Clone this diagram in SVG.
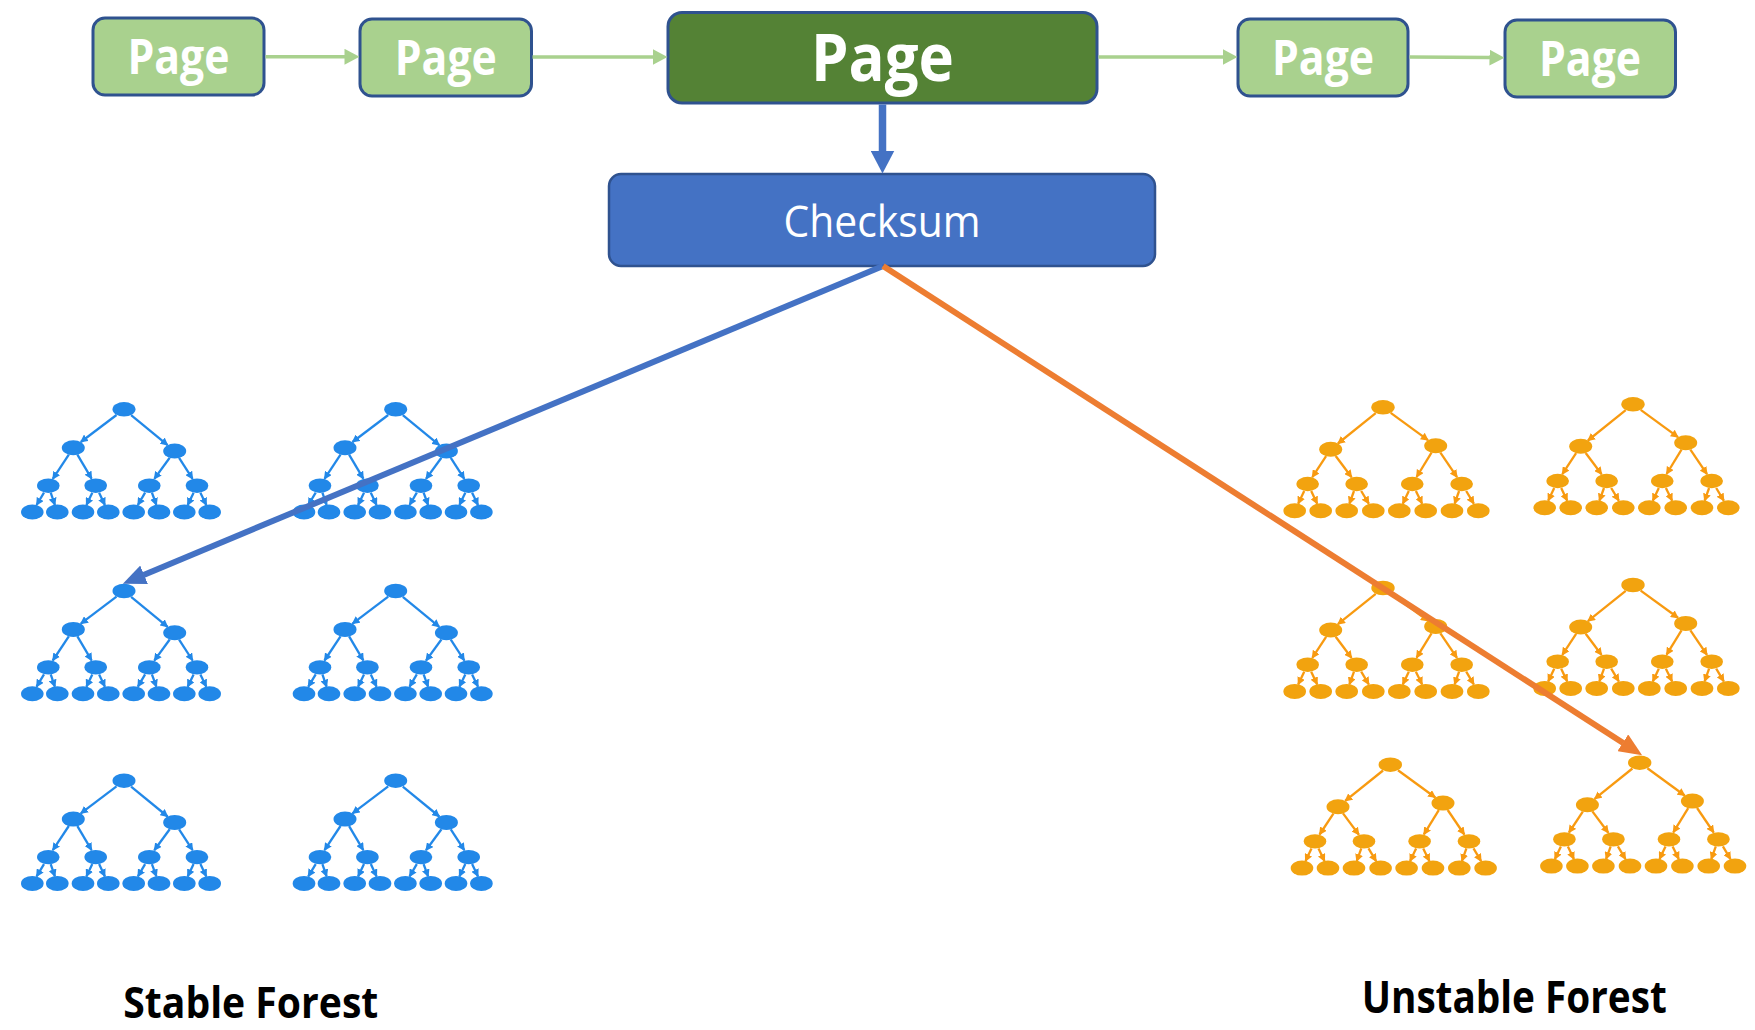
<svg xmlns="http://www.w3.org/2000/svg" xmlns:xlink="http://www.w3.org/1999/xlink" width="1755" height="1030" viewBox="0 0 1755 1030">
<style>
.pg{fill:#A9D18E;stroke:#2F528F;stroke-width:3}
.pgbig{fill:#548235;stroke:#2F528F;stroke-width:3}
.ck{fill:#4472C4;stroke:#2F528F;stroke-width:2.5}
.pt{font-family:"Open Sans","Noto Sans",sans-serif;font-weight:700;fill:#FFFFFF;text-anchor:middle}
.ct{font-family:"Open Sans","Noto Sans",sans-serif;font-weight:400;fill:#FFFFFF;text-anchor:middle}
.lab{font-family:"Open Sans","Noto Sans",sans-serif;font-weight:700;fill:#000000}
.gl{stroke:#A9D18E;stroke-width:3.5;fill:none}
.bl{stroke:#4472C4;fill:none}
.ol{stroke:#ED7D31;fill:none}
.bn{fill:#2288E8}
.be{stroke:#2288E8;stroke-width:2.3;fill:none;marker-end:url(#mb)}
.on{fill:#F2A30F}
.oe{stroke:#F89A10;stroke-width:2.3;fill:none;marker-end:url(#mo)}
</style>
<defs>
<marker id="mg" markerUnits="userSpaceOnUse" viewBox="0 0 15 16" markerWidth="15" markerHeight="16" refX="0.5" refY="8" orient="auto"><path d="M0,0 L15,8 L0,16 z" fill="#A9D18E"/></marker>
<marker id="mbd" markerUnits="userSpaceOnUse" viewBox="0 0 23 24" markerWidth="23" markerHeight="24" refX="0.5" refY="12" orient="auto"><path d="M0,0 L23,12 L0,24 z" fill="#4472C4"/></marker>
<marker id="mbl" markerUnits="userSpaceOnUse" viewBox="0 0 23 20" markerWidth="23" markerHeight="20" refX="0.5" refY="10" orient="auto"><path d="M0,0 L23,10 L0,20 z" fill="#4472C4"/></marker>
<marker id="mor" markerUnits="userSpaceOnUse" viewBox="0 0 23 20" markerWidth="23" markerHeight="20" refX="0.5" refY="10" orient="auto"><path d="M0,0 L23,10 L0,20 z" fill="#ED7D31"/></marker>
<marker id="mb" markerUnits="userSpaceOnUse" viewBox="0 0 8 8" markerWidth="8" markerHeight="8" refX="7" refY="4" orient="auto"><path d="M0,0 L8,4 L0,8 z" fill="#2288E8"/></marker>
<marker id="mo" markerUnits="userSpaceOnUse" viewBox="0 0 8 8" markerWidth="8" markerHeight="8" refX="7" refY="4" orient="auto"><path d="M0,0 L8,4 L0,8 z" fill="#F89A10"/></marker>
<g id="btree">
<path class="be" d="M-7.5,5.7 L-43.2,32.7"/>
<path class="be" d="M7.1,5.9 L43.6,35.8"/>
<path class="be" d="M-55.2,45.3 L-71.2,69.5"/>
<path class="be" d="M-46.6,45.4 L-32.4,69.4"/>
<path class="be" d="M45.7,48.5 L30.3,69.6"/>
<path class="be" d="M55.1,48.6 L68.6,69.5"/>
<path class="be" d="M-80,83.4 L-87.4,95.7"/>
<path class="be" d="M-73.3,83.4 L-69.1,95.7"/>
<path class="be" d="M-31.7,83.4 L-37.6,95.7"/>
<path class="be" d="M-24.9,83.4 L-19.1,95.7"/>
<path class="be" d="M21.1,83.4 L13.9,95.7"/>
<path class="be" d="M27.9,83.4 L32.4,95.7"/>
<path class="be" d="M69.6,83.4 L63.7,95.7"/>
<path class="be" d="M76.4,83.4 L82.3,95.7"/>
<ellipse class="bn" cx="0" cy="0" rx="11.5" ry="7.3"/>
<ellipse class="bn" cx="-50.7" cy="38.4" rx="11.5" ry="7.5"/>
<ellipse class="bn" cx="50.7" cy="41.7" rx="11.5" ry="7.5"/>
<ellipse class="bn" cx="-75.7" cy="76.4" rx="11.3" ry="7.2"/>
<ellipse class="bn" cx="-28.3" cy="76.4" rx="11.3" ry="7.2"/>
<ellipse class="bn" cx="25.3" cy="76.4" rx="11.3" ry="7.2"/>
<ellipse class="bn" cx="73" cy="76.4" rx="11.3" ry="7.2"/>
<ellipse class="bn" cx="-91.7" cy="102.7" rx="11.3" ry="7.5"/>
<ellipse class="bn" cx="-66.7" cy="102.7" rx="11.3" ry="7.5"/>
<ellipse class="bn" cx="-41" cy="102.7" rx="11.3" ry="7.5"/>
<ellipse class="bn" cx="-15.7" cy="102.7" rx="11.3" ry="7.5"/>
<ellipse class="bn" cx="9.7" cy="102.7" rx="11.3" ry="7.5"/>
<ellipse class="bn" cx="35" cy="102.7" rx="11.3" ry="7.5"/>
<ellipse class="bn" cx="60.3" cy="102.7" rx="11.3" ry="7.5"/>
<ellipse class="bn" cx="85.7" cy="102.7" rx="11.3" ry="7.5"/>
</g>
<g id="otree">
<path class="oe" d="M-7.3,5.8 L-45.1,36.2"/>
<path class="oe" d="M7.7,5.6 L45,32.8"/>
<path class="oe" d="M-56.9,48.9 L-70.7,69.8"/>
<path class="oe" d="M-47.3,48.7 L-31.4,70"/>
<path class="oe" d="M48.5,45.4 L33.6,69.7"/>
<path class="oe" d="M57.4,45.3 L74,69.8"/>
<path class="oe" d="M-78.8,83.7 L-84.8,96.4"/>
<path class="oe" d="M-71.8,83.7 L-65.8,96.4"/>
<path class="oe" d="M-29,83.7 L-33.6,96.4"/>
<path class="oe" d="M-21.8,83.7 L-14.2,96.4"/>
<path class="oe" d="M25.8,83.7 L19.8,96.4"/>
<path class="oe" d="M32.9,83.7 L39.1,96.4"/>
<path class="oe" d="M76.1,83.7 L71.6,96.4"/>
<path class="oe" d="M83.2,83.7 L90.8,96.4"/>
<ellipse class="on" cx="0" cy="0" rx="11.7" ry="7.3"/>
<ellipse class="on" cx="-52.3" cy="42" rx="11.5" ry="7.5"/>
<ellipse class="on" cx="52.7" cy="38.4" rx="11.5" ry="7.5"/>
<ellipse class="on" cx="-75.3" cy="76.7" rx="11.3" ry="7.2"/>
<ellipse class="on" cx="-26.3" cy="76.7" rx="11.3" ry="7.2"/>
<ellipse class="on" cx="29.3" cy="76.7" rx="11.3" ry="7.2"/>
<ellipse class="on" cx="78.7" cy="76.7" rx="11.3" ry="7.2"/>
<ellipse class="on" cx="-88.3" cy="103.4" rx="11.3" ry="7.5"/>
<ellipse class="on" cx="-62.3" cy="103.4" rx="11.3" ry="7.5"/>
<ellipse class="on" cx="-36.3" cy="103.4" rx="11.3" ry="7.5"/>
<ellipse class="on" cx="-9.7" cy="103.4" rx="11.3" ry="7.5"/>
<ellipse class="on" cx="16.3" cy="103.4" rx="11.3" ry="7.5"/>
<ellipse class="on" cx="42.7" cy="103.4" rx="11.3" ry="7.5"/>
<ellipse class="on" cx="69" cy="103.4" rx="11.3" ry="7.5"/>
<ellipse class="on" cx="95.3" cy="103.4" rx="11.3" ry="7.5"/>
</g>
</defs>
<rect width="1755" height="1030" fill="#FFFFFF"/>
<g id="page1"><rect class="pg" x="93" y="18" width="171" height="77" rx="12"/><text class="pt" x="178.4" y="74" font-size="49" textLength="102" lengthAdjust="spacingAndGlyphs">Page</text></g>
<g id="page2"><rect class="pg" x="360" y="19" width="171.5" height="77" rx="12"/><text class="pt" x="445.8" y="75" font-size="49" textLength="102" lengthAdjust="spacingAndGlyphs">Page</text></g>
<g id="page3"><rect class="pgbig" x="668" y="12.5" width="429" height="90.5" rx="14"/><text class="pt" x="882.5" y="80.6" font-size="67" textLength="143" lengthAdjust="spacingAndGlyphs">Page</text></g>
<g id="page4"><rect class="pg" x="1238" y="19" width="170" height="77" rx="12"/><text class="pt" x="1323" y="75" font-size="49" textLength="102" lengthAdjust="spacingAndGlyphs">Page</text></g>
<g id="page5"><rect class="pg" x="1505" y="20" width="170.5" height="77" rx="12"/><text class="pt" x="1590" y="76" font-size="49" textLength="102" lengthAdjust="spacingAndGlyphs">Page</text></g>
<g id="checksum"><rect class="ck" x="609" y="174" width="546" height="92" rx="12"/><text class="ct" x="882" y="237" font-size="44" textLength="197" lengthAdjust="spacingAndGlyphs">Checksum</text></g>
<g id="stable-forest">
<g id="stree1"><use xlink:href="#btree" href="#btree" x="124" y="409.3"/></g>
<g id="stree2"><use xlink:href="#btree" href="#btree" x="395.7" y="409.3"/></g>
<g id="stree3"><use xlink:href="#btree" href="#btree" x="124" y="591"/></g>
<g id="stree4"><use xlink:href="#btree" href="#btree" x="395.7" y="591"/></g>
<g id="stree5"><use xlink:href="#btree" href="#btree" x="124" y="780.7"/></g>
<g id="stree6"><use xlink:href="#btree" href="#btree" x="395.7" y="780.7"/></g>
</g>
<g id="unstable-forest">
<g id="utree1"><use xlink:href="#otree" href="#otree" x="1383" y="407.3"/></g>
<g id="utree2"><use xlink:href="#otree" href="#otree" x="1633" y="404.3"/></g>
<g id="utree3"><use xlink:href="#otree" href="#otree" x="1383" y="588"/></g>
<g id="utree4"><use xlink:href="#otree" href="#otree" x="1633" y="585"/></g>
<g id="utree5"><use xlink:href="#otree" href="#otree" x="1390.3" y="764.7"/></g>
<g id="utree6"><use xlink:href="#otree" href="#otree" x="1639.7" y="762.7"/></g>
</g>
<g id="label-stable"><text class="lab" x="123.3" y="1018" font-size="43" textLength="255" lengthAdjust="spacingAndGlyphs">Stable Forest</text></g>
<g id="label-unstable"><text class="lab" x="1361.7" y="1013.3" font-size="44" textLength="305" lengthAdjust="spacingAndGlyphs">Unstable Forest</text></g>
<g id="connectors">
<path class="gl" d="M265.5,56.7 L345,56.8" marker-end="url(#mg)"/>
<path class="gl" d="M532.5,57 L653,57" marker-end="url(#mg)"/>
<path class="gl" d="M1098.5,57 L1223,57" marker-end="url(#mg)"/>
<path class="gl" d="M1409.5,57 L1490,57.6" marker-end="url(#mg)"/>
<path class="bl" stroke-width="7.5" d="M882.5,104.5 L882.5,151" marker-end="url(#mbd)"/>
<path class="bl" stroke-width="6" d="M883,266 L143.6,575" marker-end="url(#mbl)"/>
<path class="ol" stroke-width="6" d="M883,266 L1623.2,743.1" marker-end="url(#mor)"/>
</g>
</svg>
